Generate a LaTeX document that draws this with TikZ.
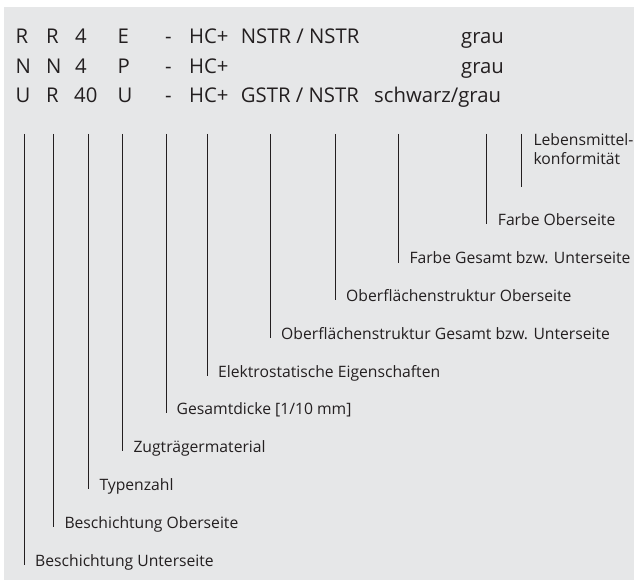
\documentclass[tikz,border=0pt]{standalone}
\usepackage{fontspec}
\setmainfont{Open Sans}
\definecolor{bg}{HTML}{E6E7E8}
\definecolor{ink}{HTML}{231F20}
\begin{document}
\begin{tikzpicture}[x=1pt,y=-1pt,
  code/.style={inner sep=0pt,anchor=base west,text=ink,font=\fontsize{20.3}{22}\selectfont},
  lbl/.style={inner sep=0pt,anchor=base west,text=ink,font=\fontsize{15.7}{20}\selectfont},
  lead/.style={draw=ink,line width=0.85pt}]
\useasboundingbox (0,0) rectangle (634,580);
\fill[bg] (4,7) rectangle (634,580);
% row 1
\node[code] (a1) at (15.5,44) {R};
\node[code] (a2) at (46,44) {R};
\node[code] (a3) at (75,44) {4};
\node[code] (a4) at (117.5,44) {E};
\node[code] (a5) at (165,44) {-};
\node[code] (a6) at (189,44) {HC+};
\node[code] (a7) at (240.7,44) {NSTR / NSTR};
\node[code] (a8) at (461,44) {grau};
% row 2
\node[code] (b1) at (15.5,73.5) {N};
\node[code] (b2) at (46,73.5) {N};
\node[code] (b3) at (75,73.5) {4};
\node[code] (b4) at (117.5,73.5) {P};
\node[code] (b5) at (165,73.5) {-};
\node[code] (b6) at (189,73.5) {HC+};
\node[code] (b8) at (461,73.5) {grau};
% row 3
\node[code] (c1) at (15.5,103) {U};
\node[code] (c2) at (46,103) {R};
\node[code] (c3) at (74,103) {40};
\node[code] (c4) at (117.5,103) {U};
\node[code] (c5) at (165,103) {-};
\node[code] (c6) at (189,103) {HC+};
\node[code] (c7) at (240.7,103) {GSTR / NSTR};
\node[code] (c8) at (374,103) {schwarz/grau};
% labels
\node[lbl] (l1) at (35,566) {Beschichtung Unterseite};
\node[lbl] (l2) at (64.3,528) {Beschichtung Oberseite};
\node[lbl] (l3) at (99.3,490) {Typenzahl};
\node[lbl] (l4) at (133.3,452) {Zugträgermaterial};
\node[lbl] (l5) at (176.5,414) {Gesamtdicke [1/10 mm]};
\node[lbl] (l6) at (218,377) {Elektrostatische Eigenschaften};
\node[lbl] (l7) at (281,339) {Oberflächenstruktur Gesamt bzw. Unterseite};
\node[lbl] (l8) at (346,301) {Oberflächenstruktur Oberseite};
\node[lbl] (l9) at (409.3,263.5) {Farbe Gesamt bzw. Unterseite};
\node[lbl] (l10) at (497.7,225) {Farbe Oberseite};
\node[lbl,align=left] (l11) at (533.3,165) {Lebensmittel-\\konformität};
% leaders
\foreach \n/\x/\y in {1/24/565,2/53.3/527,3/88.3/489,4/122.3/451,5/166/413,6/207.3/376,7/270/338,8/335/300,9/398.3/262.7,10/486.7/224,11/521.7/186.7}{
  \coordinate (t\n) at (\x,134);
  \coordinate (e\n) at (\x,\y);
  \draw[lead] (t\n) -- (e\n);
}
\end{tikzpicture}
\end{document}
